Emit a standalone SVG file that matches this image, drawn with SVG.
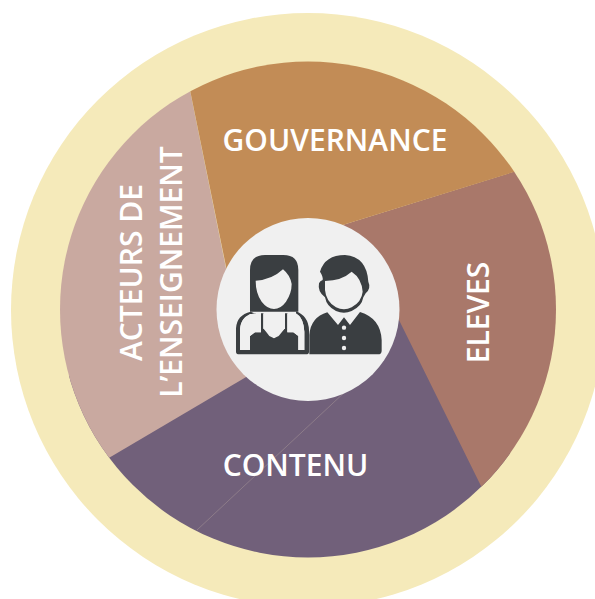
<svg xmlns="http://www.w3.org/2000/svg" width="595" height="599" viewBox="0 0 595 599">
<style>
.lbl{font-family:"Open Sans","Noto Sans","Liberation Sans",sans-serif;font-weight:600;fill:#fff;font-size:30px}
.dk{fill:#3a3e41}.lt{fill:#f0f0f0}
</style>
<rect width="595" height="599" fill="#fff"/>
<circle id="ring" cx="308" cy="310" r="297" fill="#f5eaba"/>
<defs><clipPath id="disk"><circle cx="308" cy="309.500" r="248"/></clipPath></defs>
<g clip-path="url(#disk)">
<g id="contenu"><path d="M430 300L640 700L40 640L-20 400L200 340L300 300Z" fill="#71607a"/></g>
<g id="acteurs"><path d="M230 288L180 41L-20 100L-20 534L247 376.500Z" fill="#c9a9a0"/></g>
<g id="eleves"><path d="M320 232L600 145L640 400L640 800L481 486L398 318Z" fill="#a9786a"/></g>
<g id="gouvernance"><path d="M232 296L180 41L300 20L480 60L530 167L320 232Z" fill="#c28c56"/></g>
<path d="M197 530L347 390" stroke="#a08f94" stroke-width=".6" fill="none"/>
</g>
<g id="centre">
<circle cx="308" cy="309.500" r="91.500" fill="#f0f0f0"/>
<g transform="translate(210 210) scale(.33333)">
<path class="dk" d="M120 305V180Q120 135 165 135H220Q265 135 265 180V305Z"/>
<path class="lt" d="M137 212Q185 210 219 178Q240 195 245 222Q245 250 228 275Q212 297 192 297Q172 297 155 275Q137 250 137 212Z"/>
<path class="dk" d="M78 432V355Q80 315 122 305L138 312V350H135V310Q92 318 90 358V420H120V378L135 367H153V310H160V355L192 385L225 355V310H232V367H250L265 378V420H283V365Q280 322 258 310V304Q295 318 297 360V426Q297 433 288 433H88Q78 433 78 425Z"/>
<path class="lt" d="M90 358Q92 325 120 312H153V367H135L120 378V420H90Z"/>
<path class="lt" d="M232 312H260Q281 325 283 365V420H265V378L250 367H232Z"/>
<path class="lt" d="M160 312H225V355L206 378L192 385L178 378L160 355Z"/>
<path class="dk" d="M298 433V375Q302 322 352 307L384 345L402 322L420 345L450 306Q512 325 515 390V422Q515 433 504 433Z"/>
<circle class="lt" cx="402" cy="353" r="6.500"/><circle class="lt" cx="402" cy="384" r="6.500"/><circle class="lt" cx="402" cy="414" r="6.500"/>
<path class="dk" d="M330 185Q345 135 405 135Q470 140 475 215Q484 235 467 250L460 262Q455 290 425 303Q402 313 378 303Q350 290 345 262Q322 245 327 220Q330 212 338 210Q340 200 330 185Z"/>
<path class="lt" d="M345 213Q395 212 425 185Q455 205 458 245Q455 275 425 292Q402 304 378 292Q348 275 345 240Z"/>
</g>
</g>
<g id="labels">
<text class="lbl" x="335" y="151" text-anchor="middle">GOUVERNANCE</text>
<text class="lbl" x="295.500" y="476" text-anchor="middle">CONTENU</text>
<text class="lbl" transform="translate(489 312.500) rotate(-90)" text-anchor="middle">ELEVES</text>
<text class="lbl" transform="translate(142 272.500) rotate(-90)" text-anchor="middle">ACTEURS DE</text>
<text class="lbl" transform="translate(182 272) rotate(-90)" text-anchor="middle">L’ENSEIGNEMENT</text>
</g>
</svg>
